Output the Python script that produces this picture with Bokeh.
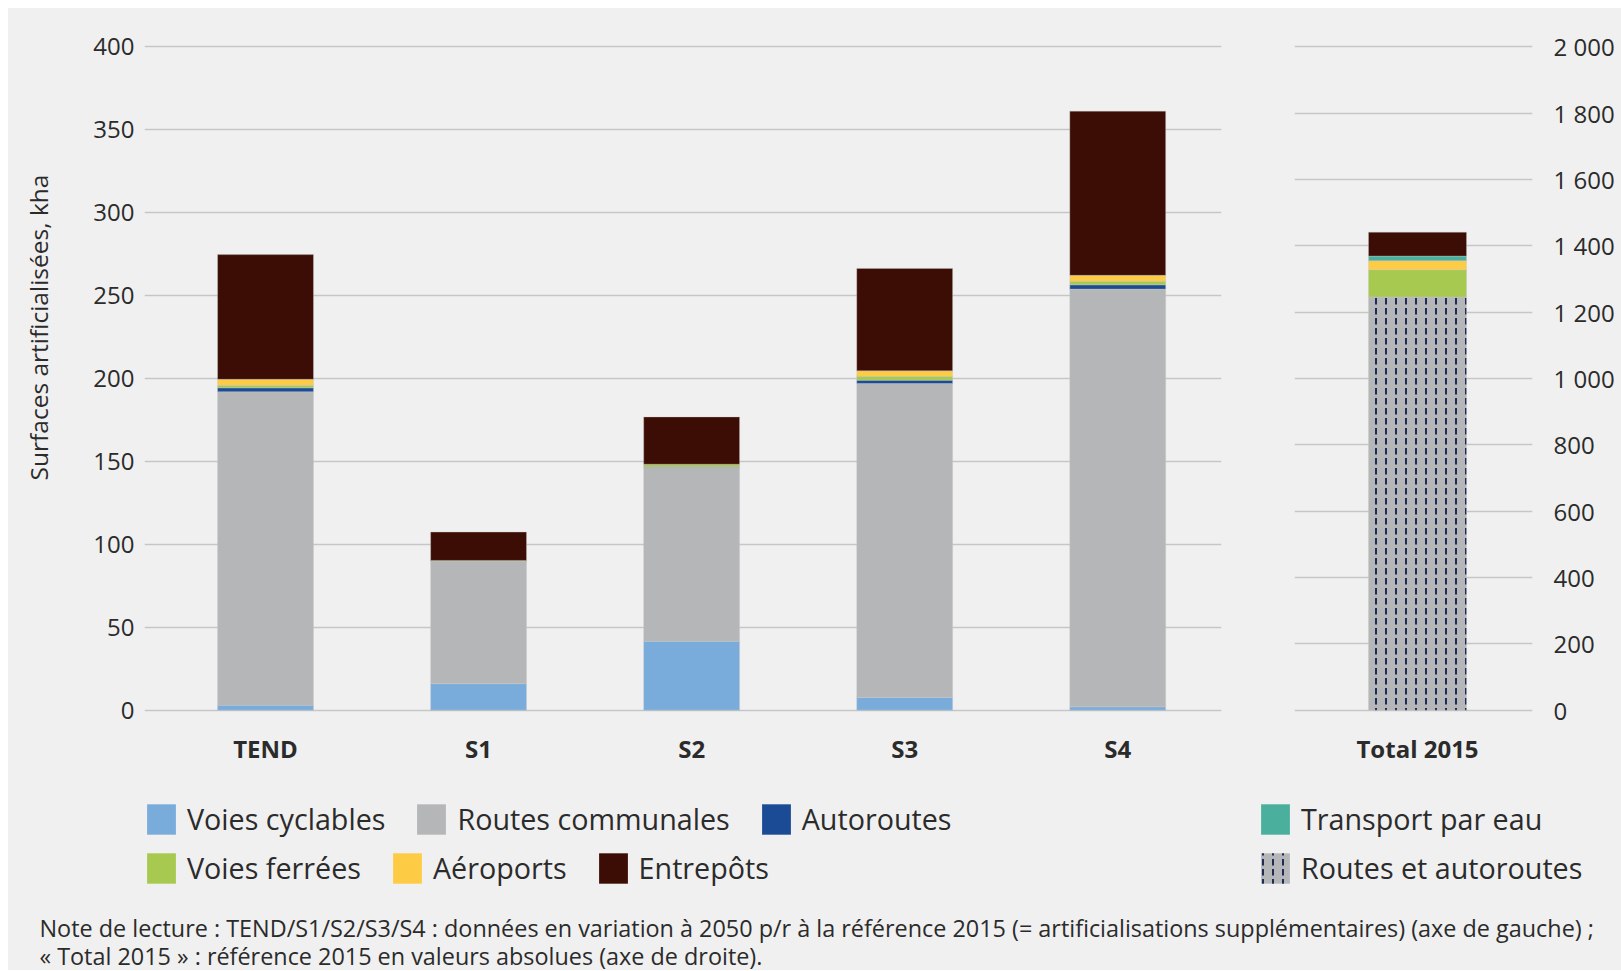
from bokeh.plotting import figure
from bokeh.models import Range1d, FixedTicker, Legend, LegendItem, Label, ColumnDataSource
from bokeh.layouts import column, row
from bokeh.embed import file_html
from bokeh.resources import INLINE

# ---------------- data ----------------
categories = ["TEND", "S1", "S2", "S3", "S4"]
voies_cyclables = [3.0, 16.0, 41.5, 7.7, 2.0]
routes_communales = [189.0, 73.6, 105.0, 189.3, 251.9]
autoroutes = [2.4, 0.2, 0.2, 2.0, 2.6]
voies_ferrees = [1.5, 0.5, 1.6, 2.4, 2.1]
aeroports = [3.6, 0.0, 0.0, 3.2, 3.6]
entrepots = [75.2, 17.1, 28.5, 61.8, 99.0]

total_category = ["Total 2015"]
total_routes_autoroutes = [1246.0]
total_voies_ferrees = [82.0]
total_aeroports = [27.0]
total_transport_eau = [14.0]
total_entrepots = [72.0]

left_ticks = [0, 50, 100, 150, 200, 250, 300, 350, 400]
right_ticks = [0, 200, 400, 600, 800, 1000, 1200, 1400, 1600, 1800, 2000]

y_axis_title = "Surfaces artificialisées, kha"
note_line1 = ("Note de lecture : TEND/S1/S2/S3/S4 : données en variation à 2050 p/r à la référence 2015 "
              "(= artificialisations supplémentaires) (axe de gauche) ;")
note_line2 = "« Total 2015 » : référence 2015 en valeurs absolues (axe de droite)."

# ---------------- style ----------------
BG = "#f0f0f0"
GRID = "#c6c6c6"
TXT = "#2b2b2b"
FONT = "Open Sans"
C_CYC = "#7aacdb"
C_COM = "#b5b6b8"
C_AUT = "#1a4b94"
C_FER = "#a8c94f"
C_AER = "#fecb45"
C_ENT = "#3c0d05"
C_EAU = "#4aaf9d"
C_HATCH = "#1f2c57"
HATCH = "vertical_dash"
HATCH_SCALE = 10
HATCH_W = 2.0

# ---------------- y-axis title strip ----------------
T = figure(width=60, height=772, x_range=Range1d(0, 60), y_range=Range1d(0, 772),
           x_axis_type=None, y_axis_type=None, output_backend="svg", toolbar_location=None,
           min_border=0, background_fill_color=BG, border_fill_color=BG, outline_line_color=None)
T.add_layout(Label(x=30, y=386, x_units="screen", y_units="screen", text=y_axis_title,
                   angle=90, angle_units="deg", text_align="center", text_baseline="middle",
                   text_font=FONT, text_font_size="24.5px", text_color=TXT))

# ---------------- left panel ----------------
src = ColumnDataSource(dict(
    x=list(range(len(categories))),
    cyc=voies_cyclables, com=routes_communales, aut=autoroutes,
    fer=voies_ferrees, aer=aeroports, ent=entrepots,
))

L = figure(frame_width=1077, frame_height=670,
           x_range=Range1d(-0.568, 4.487), y_range=Range1d(-2, 402),
           output_backend="svg", toolbar_location=None,
           min_border_left=76, min_border_right=29, min_border_top=35, min_border_bottom=67,
           background_fill_color=BG, border_fill_color=BG, outline_line_color=None)

L.vbar_stack(["cyc", "com", "aut", "fer", "aer", "ent"], x="x", width=0.45, source=src,
             fill_color=[C_CYC, C_COM, C_AUT, C_FER, C_AER, C_ENT],
             line_color="#c8c8c8", line_width=0.6, line_alpha=0.6)

L.xaxis.ticker = FixedTicker(ticks=list(range(len(categories))))
L.xaxis.major_label_overrides = {i: c for i, c in enumerate(categories)}
L.yaxis.ticker = FixedTicker(ticks=left_ticks)
L.ygrid.ticker = FixedTicker(ticks=left_ticks)
L.xgrid.grid_line_color = None
L.ygrid.grid_line_color = GRID
L.ygrid.grid_line_width = 1.6
for ax in (L.xaxis[0], L.yaxis[0]):
    ax.axis_line_color = None
    ax.major_tick_line_color = None
    ax.minor_tick_line_color = None
    ax.major_label_text_font = FONT
    ax.major_label_text_font_size = "24px"
    ax.major_label_text_color = TXT
L.xaxis.major_label_text_font_style = "bold"
L.xaxis.major_label_standoff = 12
L.yaxis.major_tick_out = 0
L.yaxis.major_label_standoff = 10

# ---------------- right panel ----------------
src_t = ColumnDataSource(dict(
    x=[0], ra=total_routes_autoroutes, fer=total_voies_ferrees, aer=total_aeroports,
    eau=total_transport_eau, ent=total_entrepots,
))

R = figure(frame_width=238, frame_height=670,
           x_range=Range1d(-1.255, 1.173), y_range=Range1d(-10, 2010),
           y_axis_location="right",
           output_backend="svg", toolbar_location=None,
           min_border_left=44, min_border_right=89, min_border_top=35, min_border_bottom=67,
           background_fill_color=BG, border_fill_color=BG, outline_line_color=None)

R.vbar_stack(["ra", "fer", "aer", "eau", "ent"], x="x", width=1.0, source=src_t,
             fill_color=[C_COM, C_FER, C_AER, C_EAU, C_ENT],
             hatch_pattern=[HATCH, "blank", "blank", "blank", "blank"],
             hatch_color=C_HATCH, hatch_weight=HATCH_W, hatch_scale=HATCH_SCALE,
             line_color="#c8c8c8", line_width=0.6, line_alpha=0.6)

R.xaxis.ticker = FixedTicker(ticks=[0])
R.xaxis.major_label_overrides = {0: total_category[0]}
R.yaxis.ticker = FixedTicker(ticks=right_ticks)
R.yaxis.major_label_overrides = {t: f"{t:,}".replace(",", " ") for t in right_ticks}
R.ygrid.ticker = FixedTicker(ticks=right_ticks)
R.xgrid.grid_line_color = None
R.ygrid.grid_line_color = GRID
R.ygrid.grid_line_width = 1.6
for ax in (R.xaxis[0], R.yaxis[0]):
    ax.axis_line_color = None
    ax.major_tick_line_color = None
    ax.minor_tick_line_color = None
    ax.major_label_text_font = FONT
    ax.major_label_text_font_size = "24px"
    ax.major_label_text_color = TXT
R.xaxis.major_label_text_font_style = "bold"
R.xaxis.major_label_standoff = 12
R.yaxis.major_label_standoff = 15

# ---------------- legend + note ----------------
BW, BH = 1613, 190
B = figure(width=BW, height=BH, x_range=Range1d(0, BW), y_range=Range1d(0, BH),
           x_axis_type=None, y_axis_type=None,
           output_backend="svg", toolbar_location=None,
           min_border=0, background_fill_color=BG, border_fill_color=BG, outline_line_color=None)

NAN = float("nan")

def swatch(color, **kw):
    return B.vbar(x=[NAN], top=[NAN], width=1, fill_color=color, line_color=None, **kw)

r_cyc = swatch(C_CYC)
r_com = swatch(C_COM)
r_aut = swatch(C_AUT)
r_fer = swatch(C_FER)
r_aer = swatch(C_AER)
r_ent = swatch(C_ENT)
r_eau = swatch(C_EAU)
r_ra = swatch(C_COM, hatch_pattern=HATCH, hatch_color=C_HATCH,
              hatch_weight=HATCH_W, hatch_scale=HATCH_SCALE)

def make_legend(items, loc, orientation):
    lg = Legend(items=[LegendItem(label=t, renderers=[r]) for t, r in items],
                location=loc, orientation=orientation,
                background_fill_alpha=0, border_line_color=None,
                padding=0, margin=0, spacing=28 if orientation == "horizontal" else 10,
                label_standoff=8, glyph_width=36, glyph_height=38, label_height=30,
                label_text_font=FONT, label_text_font_size="28.7px", label_text_color=TXT)
    B.add_layout(lg)
    return lg

make_legend([("Voies cyclables", r_cyc), ("Routes communales", r_com), ("Autoroutes", r_aut)],
            (135, 132), "horizontal")
make_legend([("Voies ferrées", r_fer), ("Aéroports", r_aer), ("Entrepôts", r_ent)],
            (135, 83), "horizontal")
make_legend([("Transport par eau", r_eau), ("Routes et autoroutes", r_ra)],
            (1249, 83), "vertical")

B.add_layout(Label(x=31, y=43, x_units="screen", y_units="screen", text=note_line1,
                   text_font=FONT, text_font_size="23.4px", text_color=TXT, text_baseline="middle"))
B.add_layout(Label(x=31, y=15, x_units="screen", y_units="screen", text=note_line2,
                   text_font=FONT, text_font_size="23.4px", text_color=TXT, text_baseline="middle"))

top_row = row(T, L, R, spacing=0, styles={"background-color": BG})
layout = column(top_row, B, spacing=0, margin=(8, 0, 0, 8), styles={"background-color": BG})
open("out.html", "w").write(file_html(layout, INLINE))
